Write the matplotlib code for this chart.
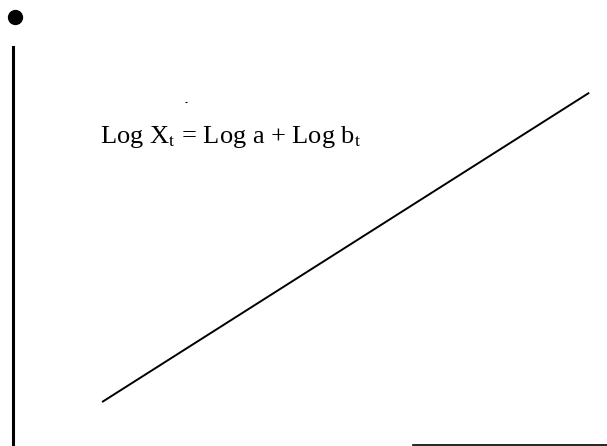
import matplotlib
matplotlib.use('Agg')
import matplotlib.pyplot as plt

# log t (x) and log X_t (y) at the two ends of the fitted line
log_t = [1.5, 9.7]
log_x = [1.08, 8.85]
equation = r"Log X$_\mathrm{t}$ = Log a + Log b$_\mathrm{t}$"

plt.rcParams['mathtext.fontset'] = 'stix'

fig = plt.figure(figsize=(6.07, 4.46), dpi=100)
W, H = 607, 446
ax = fig.add_axes([13 / W, 1 / H, (W - 13) / W, (H - 48) / H])
ax.set_xlim(0, 10)
ax.set_ylim(0, 10)

# the straight line
ax.plot(log_t, log_x, color='black', linewidth=1.4, solid_capstyle='butt')

# equation label
ax.text(1.46, 7.59, equation, family=['Liberation Serif', 'DejaVu Serif'],
        fontsize=19, va='baseline', ha='left', color='black')

# bullet at the top-left corner and a stray speck
ax.plot([0.034], [10.75], 'o', color='black', markersize=10, clip_on=False)
ax.plot([2.91], [8.62], '_', color='black', markersize=2, markeredgewidth=0.8)

# axes: thick left spine, partial bottom line
for s in ['top', 'right', 'bottom']:
    ax.spines[s].set_visible(False)
ax.spines['left'].set_linewidth(2.2)
ax.axhline(0, xmin=0.673, xmax=1, color='black', linewidth=1.2, clip_on=False)
ax.set_xticks([])
ax.set_yticks([])

fig.savefig('out.png', dpi=100)
